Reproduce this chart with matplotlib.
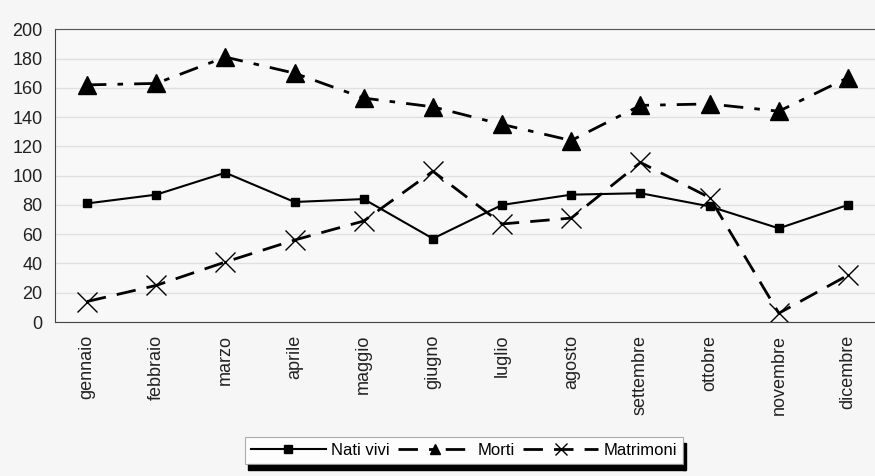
import matplotlib.pyplot as plt
from matplotlib.lines import Line2D
from matplotlib.patches import Rectangle

plt.rcParams['font.family'] = ['Liberation Sans', 'DejaVu Sans']

# Data
mesi = ['gennaio', 'febbraio', 'marzo', 'aprile', 'maggio', 'giugno',
        'luglio', 'agosto', 'settembre', 'ottobre', 'novembre', 'dicembre']
nati_vivi = [81, 87, 102, 82, 84, 57, 80, 87, 88, 79, 64, 80]
morti = [162, 163, 181, 170, 153, 147, 135, 124, 148, 149, 144, 167]
matrimoni = [14, 25, 41, 56, 69, 103, 67, 71, 109, 85, 6, 32]
y_ticks = [0, 20, 40, 60, 80, 100, 120, 140, 160, 180, 200]

style_morti = (0, (7, 4, 2, 4))
style_matr = (0, (7, 4))

fig = plt.figure(figsize=(8.75, 4.76), dpi=100)
fig.patch.set_facecolor('#f6f6f6')
ax = fig.add_axes([0.063, 0.3235, 0.937, 0.615])
ax.set_facecolor('#f8f8f8')

x = range(len(mesi))
ax.plot(x, nati_vivi, color='black', lw=1.5, marker='s', ms=6)
ax.plot(x, morti, color='black', lw=2, linestyle=style_morti, marker='^', ms=13)
ax.plot(x, matrimoni, color='black', lw=2, linestyle=style_matr,
        marker='x', ms=14, mew=1)

ax.set_xlim(-0.46, len(mesi) - 0.61)
ax.set_ylim(0, 200)
ax.set_yticks(y_ticks)
ax.set_xticks(list(x))
ax.set_xticklabels(mesi, rotation=90, fontsize=13, color='#222222')
ax.tick_params(axis='y', labelsize=13, length=0, pad=9, labelcolor='#222222')
ax.tick_params(axis='x', length=0, pad=9)
ax.grid(axis='y', color='#e0e0e0', lw=1)
ax.set_axisbelow(True)

ax.spines['right'].set_visible(False)
ax.spines['top'].set_color('#555555')
ax.spines['left'].set_color('#444444')
ax.spines['bottom'].set_color('#444444')

# Legend with small markers, as in the original
handles = [
    Line2D([], [], color='black', lw=1.5, marker='s', ms=5.5),
    Line2D([], [], color='black', lw=2, linestyle=style_morti, marker='^', ms=7),
    Line2D([], [], color='black', lw=2, linestyle=style_matr, marker='x', ms=8, mew=1),
]
labels = ['Nati vivi', 'Morti', 'Matrimoni']
leg = fig.legend(handles, labels, loc='center', bbox_to_anchor=(0.53, 0.053),
                 ncol=3, fontsize=12, frameon=True, fancybox=False,
                 handlelength=4.5, handletextpad=0.3, columnspacing=0.5,
                 borderpad=0.35, borderaxespad=0, edgecolor='#999999')
leg.get_frame().set_facecolor('white')
leg.get_frame().set_linewidth(0.8)

# thick black shadow on bottom and right of the legend box
fig.canvas.draw()
bb = leg.get_window_extent().transformed(fig.transFigure.inverted())
fig.patches.append(Rectangle((bb.x0 + 0.003, bb.y0 - 0.012), bb.width, 0.012,
                             transform=fig.transFigure, color='black', zorder=0))
fig.patches.append(Rectangle((bb.x1, bb.y0 - 0.012), 0.004, bb.height,
                             transform=fig.transFigure, color='black', zorder=0))

fig.savefig('out.png', dpi=100, facecolor=fig.get_facecolor())
